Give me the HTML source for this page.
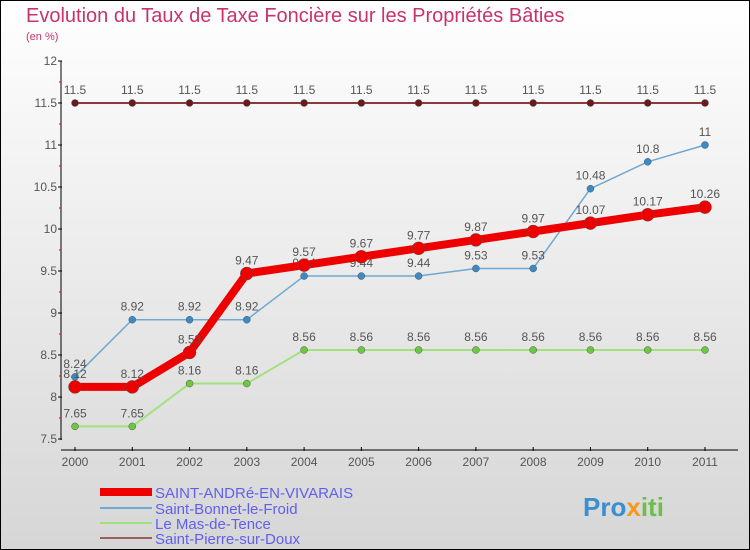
<!DOCTYPE html>
<html><head><meta charset="utf-8"><style>
body{margin:0}
#c{width:750px;height:550px;position:relative;overflow:hidden}
svg{display:block}
text{font-family:"Liberation Sans",sans-serif}
</style></head><body>
<div id="c">
<svg id="s" width="750" height="550" xmlns="http://www.w3.org/2000/svg">
<defs><linearGradient id="bg" x1="0" y1="0" x2="0" y2="1"><stop offset="0" stop-color="#ffffff"/><stop offset="1" stop-color="#d6d6d6"/></linearGradient></defs>
<rect x="0.5" y="0.5" width="749" height="549" fill="url(#bg)" stroke="#000"/>
<text x="26" y="22" font-size="20" fill="#c8336b">Evolution du Taux de Taxe Foncière sur les Propriétés Bâties</text>
<text x="26" y="40" font-size="11" fill="#c8336b">(en %)</text>
<g id="axes"></g><g id="series"></g>
<g>
<rect x="100" y="488" width="52" height="8" fill="#e00"/>
<text x="155" y="498" font-size="15" fill="#6060ee">SAINT-ANDRé-EN-VIVARAIS</text>
<rect x="100" y="507" width="52" height="2" fill="#6fa8d0"/>
<text x="155" y="514" font-size="15" fill="#6060ee">Saint-Bonnet-le-Froid</text>
<rect x="100" y="522" width="52" height="2" fill="#9ee07a"/>
<text x="155" y="529" font-size="15" fill="#6060ee">Le Mas-de-Tence</text>
<rect x="100" y="537" width="52" height="2" fill="#9a6060"/>
<text x="155" y="544" font-size="15" fill="#6060ee">Saint-Pierre-sur-Doux</text>
</g>
<g>
<text x="583" y="516" font-size="26" font-weight="bold" fill="#3a8fd0">Pro<tspan fill="#f39a1c">x</tspan><tspan fill="#6cc04a">iti</tspan></text>
</g>
</svg></div>
<script>
const years=["2000","2001","2002","2003","2004","2005","2006","2007","2008","2009","2010","2011"];
const yTicks=[7.5,8,8.5,9,9.5,10,10.5,11,11.5,12];
const andre=[8.12,8.12,8.53,9.47,9.57,9.67,9.77,9.87,9.97,10.07,10.17,10.26];
const bonnet=[8.24,8.92,8.92,8.92,9.44,9.44,9.44,9.53,9.53,10.48,10.8,11];
const mas=[7.65,7.65,8.16,8.16,8.56,8.56,8.56,8.56,8.56,8.56,8.56,8.56];
const pierre=[11.5,11.5,11.5,11.5,11.5,11.5,11.5,11.5,11.5,11.5,11.5,11.5];
const NS="http://www.w3.org/2000/svg";
const X=i=>75+i*(630/11);
const Y=v=>439-(v-7.5)*84;
function mk(t,a,p){const e=document.createElementNS(NS,t);for(const k in a)e.setAttribute(k,a[k]);p.appendChild(e);return e;}
const ax=document.getElementById('axes');
let l=mk('line',{x1:61,y1:61,x2:61,y2:440,stroke:'#000','stroke-width':1},ax);

l=mk('line',{x1:61,y1:450,x2:738,y2:450,stroke:'#000','stroke-width':1},ax);

yTicks.forEach((v,i)=>{
 mk('line',{x1:58,y1:Y(v),x2:62,y2:Y(v),stroke:'#000'},ax);
 if(i<yTicks.length-1)mk('line',{x1:59,y1:Y(v+0.25),x2:61,y2:Y(v+0.25),stroke:'#e00'},ax);
 const t=mk('text',{x:57,y:Y(v)+4,'font-size':12,fill:'#555','text-anchor':'end'},ax);
 t.textContent=String(v);
 
});
years.forEach((y,i)=>{
 mk('line',{x1:X(i),y1:447,x2:X(i),y2:451,stroke:'#000'},ax);
 const t=mk('text',{x:X(i),y:466,'font-size':12,fill:'#555','text-anchor':'middle'},ax);
 t.textContent=y;
 
});
const sg=document.getElementById('series');
function series(vals,name,color,w,r,pc){
 const g=mk('g',{},sg);
 
 const p=mk('polyline',{points:vals.map((v,i)=>X(i)+','+Y(v)).join(' '),fill:'none',stroke:color,'stroke-width':w,'stroke-linejoin':'round'},g);
 
 vals.forEach((v,i)=>{
  const c=mk('circle',{cx:X(i),cy:Y(v),r:r,fill:pc,stroke:'#555','stroke-width':0.5},g);
  
  const t=mk('text',{x:X(i),y:Y(v)-9,'font-size':12,fill:'#555','text-anchor':'middle'},g);
  t.textContent=String(v);
  
 });
}
series(pierre,'saint-pierre','#8a3a3a',2,3.5,'#6a1a1a');
series(mas,'le-mas','#a4e080',2,3.5,'#6cc840');
series(bonnet,'saint-bonnet','#6fa8d0',1.5,3.5,'#3a8ac8');
series(andre,'saint-andre','#e00',8,6.5,'#e00');
</script>
</body></html>
